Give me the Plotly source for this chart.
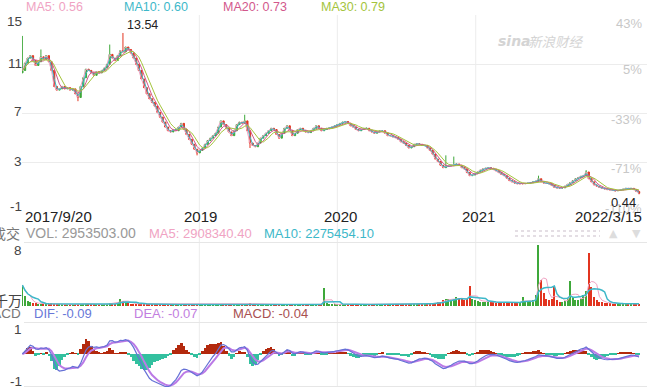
import pandas as pd
import numpy as np
import plotly.graph_objects as go

W, H = 660, 387

# ---------------- data (weekly samples) ----------------
dates = pd.date_range('2017-09-20', periods=234, freq='7D')

closes = [
    10.49, 11.1, 11.5, 11.7, 11.3, 10.9, 11.2, 11.6, 11.4, 11.7,
    11.2, 10.5, 9.2, 8.9, 9.0, 9.2, 9.0, 9.1, 8.9, 9.0,
    8.6, 8.3, 9.2, 9.9, 10.6, 10.5, 10.3, 10.1, 10.4, 10.3,
    10.5, 10.7, 11.0, 11.8, 11.5, 11.3, 11.7, 12.1, 12.0, 12.4,
    12.2, 11.9, 11.5, 11.0, 10.5, 9.8, 9.1, 8.6, 8.2, 7.9,
    7.6, 7.1, 6.7, 6.3, 5.9, 5.6, 5.5, 5.7, 5.6, 5.9,
    6.2, 5.7, 5.3, 4.9, 4.5, 4.1, 3.8, 4.0, 4.2, 4.5,
    4.8, 5.0, 5.2, 5.4, 5.9, 6.4, 6.1, 5.8, 5.5, 5.2,
    5.6, 6.1, 6.3, 6.2, 6.4, 5.6, 4.6, 4.4, 4.3, 4.6,
    5.0, 5.2, 5.4, 5.6, 5.8, 5.7, 5.3, 5.0, 5.4, 5.8,
    6.0, 5.6, 5.2, 5.4, 5.7, 5.8, 5.6, 5.5, 5.45, 5.6,
    5.8, 6.0, 5.8, 5.6, 5.7, 5.8, 5.85, 5.9, 6.0, 6.1,
    6.2, 6.3, 6.35, 6.2, 6.0, 5.9, 5.7, 5.6, 5.7, 5.8,
    5.8, 5.6, 5.5, 5.4, 5.5, 5.6, 5.6, 5.4, 5.2, 5.2,
    5.1, 5.05, 4.9, 4.7, 4.6, 4.4, 4.2, 4.3, 4.5, 4.55,
    4.5, 4.4, 4.4, 4.2, 4.0, 3.7, 3.3, 3.1, 2.8, 2.6,
    2.7, 2.75, 2.8, 2.85, 2.9, 2.8, 2.6, 2.5, 2.2, 1.95,
    2.0, 2.15, 2.25, 2.4, 2.5, 2.55, 2.6, 2.55, 2.45, 2.35,
    2.2, 2.05, 1.95, 1.75, 1.55, 1.45, 1.35, 1.3, 1.3, 1.3,
    1.32, 1.35, 1.38, 1.45, 1.5, 1.7, 1.45, 1.35, 1.32, 1.3,
    1.15, 1.0, 0.96, 0.95, 0.96, 1.1, 1.25, 1.4, 1.55, 1.7,
    1.8, 1.9, 1.95, 2.25, 1.7, 1.45, 1.2, 1.1, 1.0, 0.92,
    0.88, 0.82, 0.8, 0.75, 0.72, 0.75, 0.8, 0.85, 0.92, 0.9,
    0.92, 0.82, 0.66, 0.52,
]
first_open = 10.3
spike_highs = {0: 13.3, 7: 12.2, 33: 12.6, 38: 13.54, 84: 6.9, 160: 3.6, 163: 3.5, 195: 1.95, 213: 2.4}
spike_lows = {21: 8.0, 66: 3.6, 86: 4.2, 233: 0.44}

# volume in 千万 (10 million) units
volumes = [
    2.8, 1.4, 0.7, 0.5, 0.4, 0.35, 0.3, 0.3, 0.3, 0.25,
    0.3, 0.35, 0.3, 0.25, 0.2, 0.2, 0.2, 0.2, 0.2, 0.2,
    0.25, 0.3, 0.3, 0.3, 0.3, 0.25, 0.2, 0.2, 0.2, 0.2,
    0.2, 0.25, 0.3, 0.4, 0.3, 0.3, 0.5, 1.0, 0.7, 0.5,
    0.4, 0.3, 0.3, 0.3, 0.25, 0.3, 0.3, 0.25, 0.2, 0.2,
    0.2, 0.2, 0.2, 0.2, 0.2, 0.2, 0.2, 0.2, 0.2, 0.2,
    0.2, 0.2, 0.2, 0.2, 0.25, 0.25, 0.3, 0.25, 0.2, 0.2,
    0.2, 0.2, 0.2, 0.25, 0.3, 0.3, 0.25, 0.2, 0.2, 0.2,
    0.2, 0.25, 0.25, 0.25, 0.3, 0.3, 0.35, 0.3, 0.25, 0.2,
    0.2, 0.2, 0.2, 0.2, 0.2, 0.2, 0.2, 0.2, 0.2, 0.2,
    0.2, 0.2, 0.2, 0.2, 0.2, 0.2, 0.2, 0.2, 0.2, 0.2,
    0.2, 0.2, 0.25, 0.25, 2.4, 0.4, 0.25, 0.2, 0.2, 0.2,
    0.25, 0.25, 0.3, 0.25, 0.2, 0.2, 0.2, 0.2, 0.2, 0.2,
    0.2, 0.2, 0.2, 0.2, 0.2, 0.2, 0.2, 0.2, 0.25, 0.25,
    0.25, 0.25, 0.3, 0.3, 0.3, 0.3, 0.3, 0.3, 0.3, 0.3,
    0.3, 0.3, 0.3, 0.3, 0.3, 0.35, 0.4, 0.5, 0.6, 0.8,
    1.0, 0.9, 0.8, 1.0, 1.2, 1.0, 0.9, 0.8, 0.9, 2.7,
    1.0, 0.8, 0.7, 0.6, 0.6, 0.6, 0.5, 0.5, 0.5, 0.4,
    0.5, 0.5, 0.5, 0.5, 0.4, 0.4, 0.4, 0.5, 0.5, 1.2,
    0.5, 0.5, 0.6, 0.8, 1.5, 8.1, 3.5, 1.8, 1.0, 0.8,
    0.9, 2.5, 0.8, 0.6, 0.6, 0.7, 1.0, 3.3, 1.2, 0.8,
    0.8, 1.0, 1.5, 2.0, 7.1, 2.5, 1.2, 0.8, 0.6, 0.5,
    0.4, 0.4, 0.35, 0.3, 0.3, 0.3, 0.3, 0.3, 0.3, 0.3,
    0.3, 0.3, 0.3, 0.3,
]

ma_windows = {'MA5': 1, 'MA10': 2, 'MA20': 4, 'MA30': 6}   # 5/10/20/30 trading days = 1/2/4/6 weeks
vol_ma_windows = {'MA5': 4, 'MA10': 7}
macd_spans = (5, 12, 4)

legend_top = [('MA5: 0.56', 25, '#f0a3c3'), ('MA10: 0.60', 123, '#3db8c9'),
              ('MA20: 0.73', 222, '#d2588c'), ('MA30: 0.79', 320, '#a4c43c')]
left_ticks = [('15', 22), ('11', 63), ('7', 112), ('3', 161), ('-1', 206)]
right_ticks = [('43%', 23), ('5%', 70), ('-33%', 119), ('-71%', 169), ('-110%', 208)]
x_labels = [('2017/9/20', 24, 'left'), ('2019', 200, 'center'), ('2020', 340, 'center'),
            ('2021', 478, 'center'), ('2022/3/15', 643, 'right')]
year_lines = ['2019-01-01', '2020-01-01', '2021-01-01']

# ---------------- derived ----------------
close = pd.Series(closes, index=dates)
opens = [first_open] + closes[:-1]
highs = [spike_highs.get(i, max(o, c)) for i, (o, c) in enumerate(zip(opens, closes))]
lows = [spike_lows.get(i, min(o, c)) for i, (o, c) in enumerate(zip(opens, closes))]

UP = '#3ea83a'
DOWN = '#e2341f'
ma_colors = {'MA5': '#f0a3c3', 'MA10': '#3db8c9', 'MA20': '#d2588c', 'MA30': '#a4c43c'}

ema_f = close.ewm(span=macd_spans[0], adjust=False).mean()
ema_s = close.ewm(span=macd_spans[1], adjust=False).mean()
dif = ema_f - ema_s
dea = dif.ewm(span=macd_spans[2], adjust=False).mean()
macd = 2 * (dif - dea)

vol = pd.Series(volumes, index=dates)
vol_colors = [UP if c >= o else DOWN for o, c in zip(opens, closes)]

fig = go.Figure()
fig.add_trace(go.Candlestick(
    x=dates, open=opens, high=highs, low=lows, close=closes,
    increasing=dict(line=dict(color=UP, width=1), fillcolor=UP),
    decreasing=dict(line=dict(color=DOWN, width=1), fillcolor=DOWN),
    whiskerwidth=0, xaxis='x', yaxis='y', hoverinfo='skip', showlegend=False))
for name, w in ma_windows.items():
    fig.add_trace(go.Scatter(x=dates, y=close.rolling(w, min_periods=1).mean(), mode='lines',
                             line=dict(color=ma_colors[name], width=1), xaxis='x', yaxis='y',
                             hoverinfo='skip', showlegend=False))

fig.add_trace(go.Bar(x=dates, y=volumes, marker=dict(color=vol_colors, line=dict(width=0)),
                     width=3 * 86400000, xaxis='x2', yaxis='y2', hoverinfo='skip', showlegend=False))
fig.add_trace(go.Scatter(x=dates, y=vol.rolling(vol_ma_windows['MA5'], min_periods=1).mean(), mode='lines',
                         line=dict(color='#f0a3c3', width=1), xaxis='x2', yaxis='y2', hoverinfo='skip', showlegend=False))
fig.add_trace(go.Scatter(x=dates, y=vol.rolling(vol_ma_windows['MA10'], min_periods=1).mean(), mode='lines',
                         line=dict(color='#3db8c9', width=1.5), xaxis='x2', yaxis='y2', hoverinfo='skip', showlegend=False))

fig.add_trace(go.Bar(x=dates, y=macd, marker=dict(color=['#b3290d' if v >= 0 else '#33c09f' for v in macd],
                                                  line=dict(width=0)),
                     width=7 * 86400000, xaxis='x3', yaxis='y3', hoverinfo='skip', showlegend=False))
fig.add_trace(go.Scatter(x=dates, y=dea, mode='lines', line=dict(color='#bb7ae6', width=2),
                         xaxis='x3', yaxis='y3', hoverinfo='skip', showlegend=False))
fig.add_trace(go.Scatter(x=dates, y=dif, mode='lines', line=dict(color='#6571d6', width=1.2),
                         xaxis='x3', yaxis='y3', hoverinfo='skip', showlegend=False))


def px(x, y):
    return x / W, 1 - y / H


xdom = [22 / W, 647 / W]
xr = ['2017-09-19', '2022-03-30']
ax = dict(domain=xdom, range=xr, type='date', showgrid=False, showticklabels=False, zeroline=False,
          showline=False, ticks='')
fig.update_layout(
    width=W, height=H, margin=dict(l=0, r=0, t=0, b=0),
    paper_bgcolor='white', plot_bgcolor='white',
    font=dict(family='Liberation Sans, Arial, sans-serif', size=13, color='#333'),
    xaxis=dict(ax, anchor='y', rangeslider=dict(visible=False)),
    xaxis2=dict(ax, anchor='y2', matches='x'),
    xaxis3=dict(ax, anchor='y3', matches='x'),
    yaxis=dict(domain=[1 - 212 / H, 1 - 15 / H], range=[-1, 15], tickvals=[15, 11, 7, 3, -1],
               showgrid=True, gridcolor='#ececec', gridwidth=1, showticklabels=False, zeroline=False),
    yaxis2=dict(domain=[1 - 306 / H, 1 - 243 / H], range=[0, 8.4], showgrid=False,
                showticklabels=False, zeroline=False),
    yaxis3=dict(domain=[0, 1 - 322 / H], range=[-1.27, 1.23], showgrid=False,
                showticklabels=False, zeroline=False),
    bargap=0,
)

shapes = []
for d in year_lines:
    shapes.append(dict(type='line', xref='x', yref='paper', x0=d, x1=d, y0=0, y1=1 - 15 / H,
                       line=dict(color='#ececec', width=1), layer='below'))
for yy in [242.5, 322.5, 386.5]:
    shapes.append(dict(type='line', xref='paper', yref='paper', x0=24 / W, x1=647 / W,
                       y0=1 - yy / H, y1=1 - yy / H, line=dict(color='#e6e6e6', width=1), layer='below'))
for yy in [231, 236]:
    shapes.append(dict(type='line', xref='paper', yref='paper', x0=515 / W, x1=600 / W,
                       y0=1 - yy / H, y1=1 - yy / H, line=dict(color='#dcd3dc', width=1.5, dash='dot')))
fig.update_layout(shapes=shapes)

ann = []


def text(t, x, y, color, anchor='left', size=13, family=None, **kw):
    xx, yy = px(x, y)
    f = dict(color=color, size=size)
    if family:
        f['family'] = family
    ann.append(dict(text=t, x=xx, y=yy, xref='paper', yref='paper', xanchor=anchor, yanchor='middle',
                    showarrow=False, font=f, borderpad=0, **kw))


for t, x, c in legend_top:
    text(t, x, 7, c, size=12.5)
for t, y in left_ticks:
    text(t, 23, y, '#444', 'right', size=13.5)
for t, y in right_ticks:
    text(t, 643, y, '#c8c8c8', 'right', size=13)
text('13.54', 126, 25, '#222', size=12.5)
text('0.44', 610, 202, '#222', size=13)
for t, x, a in x_labels:
    text(t, x, 217, '#222', a, size=15)
text('<i><b>sina</b></i>', 497, 41, '#d4d4d4', size=14, family='DejaVu Sans')
text('<i>新浪财经</i>', 527, 41, '#d4d4d4', size=13.5, family='Noto Sans CJK SC')
text('成交', 21, 233, '#777', 'right', size=14, family='Noto Sans CJK SC')
text('VOL: 2953503.00', 25, 233, '#999', size=14)
text('MA5: 2908340.40', 148, 233, '#f0a3c3', size=13)
text('MA10: 2275454.10', 263, 233, '#3db8c9', size=13)
text('▲', 613, 233, '#dddddd', 'center', size=11, family='DejaVu Sans')
text('▼', 636, 233, '#dddddd', 'center', size=11, family='DejaVu Sans')
text('8', 23, 250, '#444', 'right', size=13.5)
text('千万', 23, 300, '#444', 'right', size=14, family='Noto Sans CJK SC')
text('MACD', 22, 313, '#777', 'right', size=13.5)
text('DIF: -0.09', 33, 313, '#6877d8', size=13)
text('DEA: -0.07', 133, 313, '#c27de0', size=13)
text('MACD: -0.04', 232, 313, '#a85050', size=13)
text('1', 23, 329, '#444', 'right', size=13.5)
text('-1', 23, 381, '#444', 'right', size=13.5)
fig.update_layout(annotations=ann)

fig.write_html('out.html', config={'displayModeBar': False},
               post_script="document.body.style.margin='0';document.body.style.overflow='hidden';")
